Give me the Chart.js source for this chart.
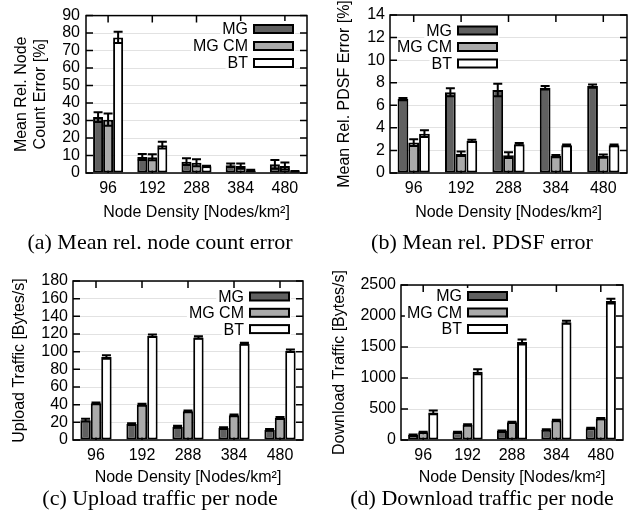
<!DOCTYPE html>
<html>
<head>
<meta charset="utf-8">
<script src="https://cdn.jsdelivr.net/npm/chart.js@4.4.0/dist/chart.umd.min.js"></script>
<style>
  body { margin: 0; background: #fff; width: 641px; height: 525px; position: relative; overflow: hidden; }
  canvas { position: absolute; }
  .cap { position: absolute; width: 320px; text-align: center; font-family: "Liberation Serif", "Times New Roman", serif; font-size: 22px; color: #000; line-height: 26px; }
</style>
</head>
<body>
<canvas id="chartA" width="320" height="230" style="left:0;top:0"></canvas>
<canvas id="chartB" width="321" height="230" style="left:320px;top:0"></canvas>
<canvas id="chartC" width="320" height="245" style="left:0;top:250px"></canvas>
<canvas id="chartD" width="321" height="245" style="left:320px;top:250px"></canvas>
<div class="cap" style="left:0;top:229px">(a) Mean rel. node count error</div>
<div class="cap" style="left:322px;top:229px">(b) Mean rel. PDSF error</div>
<div class="cap" style="left:0;top:485px">(c) Upload traffic per node</div>
<div class="cap" style="left:322px;top:485px">(d) Download traffic per node</div>
<script>
// ==========================================
// DATA
// ==========================================
const densities = ['96', '192', '288', '384', '480'];
const seriesNames = ['MG', 'MG CM', 'BT'];

// (a) mean relative node count error [%]
const countMG = [32, 9.1, 6.5, 4.5, 5];
const countMGErr = [2.8, 1.7, 1.9, 1, 2.5];
const countCM = [30.5, 9, 5.8, 4, 4];
const countCMErr = [3.5, 1.7, 2, 1.5, 2];
const countBT = [77.5, 15.9, 3.8, 1.5, 1];
const countBTErr = [3.2, 1.9, 0.4, 0.3, 0.2];

// (b) mean relative PDSF error [%]
const pdsfMG = [6.55, 7.15, 7.35, 7.55, 7.7];
const pdsfMGErr = [0.1, 0.35, 0.55, 0.15, 0.15];
const pdsfCM = [2.7, 1.7, 1.58, 1.5, 1.5];
const pdsfCMErr = [0.3, 0.2, 0.25, 0.1, 0.15];
const pdsfBT = [3.48, 2.85, 2.55, 2.45, 2.45];
const pdsfBTErr = [0.3, 0.1, 0.1, 0.08, 0.08];

// (c) upload traffic per node [Bytes/s]
const upMG = [22.5, 18, 15, 13.5, 11.5];
const upMGErr = [1.5, 1, 1, 1, 1];
const upCM = [41.5, 40, 32.5, 28, 25];
const upCMErr = [1, 1, 1, 1, 1];
const upBT = [94, 118, 116, 109, 101];
const upBTErr = [2, 1.5, 1.5, 1, 1.5];

// (d) download traffic per node [Bytes/s]
const downMG = [80, 125, 145, 165, 190];
const downMGErr = [8, 8, 8, 8, 8];
const downCM = [125, 245, 285, 315, 345];
const downCMErr = [8, 10, 10, 10, 10];
const downBT = [445, 1100, 1580, 1900, 2240];
const downBTErr = [30, 40, 40, 25, 40];

// ==========================================
// STYLE
// ==========================================
const FONT = '"Liberation Sans", Arial, sans-serif';
const fills = ['#606060', '#aaaaaa', '#ffffff'];
Chart.defaults.font.family = FONT;
Chart.defaults.font.size = 16;
Chart.defaults.color = '#000';
Chart.defaults.animation = false;

// ==========================================
// PLUGINS (gnuplot look)
// ==========================================
const frameTicks = {
  id: 'frameTicks',
  beforeDatasetsDraw(chart) {
    const { ctx, chartArea: a, scales: { x, y } } = chart;
    ctx.save();
    ctx.strokeStyle = '#000';
    ctx.lineWidth = 1.5;
    ctx.strokeRect(a.left, a.top, a.right - a.left, a.bottom - a.top);
    ctx.beginPath();
    y.ticks.forEach(t => {
      const py = y.getPixelForValue(t.value);
      ctx.moveTo(a.left, py); ctx.lineTo(a.left + 7, py);
      ctx.moveTo(a.right, py); ctx.lineTo(a.right - 7, py);
    });
    x.ticks.forEach((t, i) => {
      const px = x.getPixelForValue(i);
      ctx.moveTo(px, a.top); ctx.lineTo(px, a.top + 7);
      ctx.moveTo(px, a.bottom); ctx.lineTo(px, a.bottom - 7);
    });
    ctx.stroke();
    ctx.restore();
  }
};

const errorBars = {
  id: 'errorBars',
  afterDatasetsDraw(chart) {
    const { ctx } = chart;
    const y = chart.scales.y;
    ctx.save();
    ctx.strokeStyle = '#000';
    ctx.lineWidth = 2;
    chart.data.datasets.forEach((ds, i) => {
      chart.getDatasetMeta(i).data.forEach((bar, j) => {
        const v = ds.data[j], e = ds.errors[j];
        const top = y.getPixelForValue(v + e);
        const bot = y.getPixelForValue(Math.max(v - e, 0));
        const w = 4.5;
        ctx.beginPath();
        ctx.moveTo(bar.x, top); ctx.lineTo(bar.x, bot);
        ctx.moveTo(bar.x - w, top); ctx.lineTo(bar.x + w, top);
        ctx.moveTo(bar.x - w, bot); ctx.lineTo(bar.x + w, bot);
        ctx.stroke();
      });
    });
    ctx.restore();
  }
};

const boxLegend = {
  id: 'boxLegend',
  afterDraw(chart, args, opts) {
    const { ctx } = chart;
    ctx.save();
    ctx.font = '16px ' + FONT;
    ctx.textAlign = 'right';
    ctx.textBaseline = 'middle';
    chart.data.datasets.forEach((ds, i) => {
      const cy = opts.top + i * opts.step;
      const tw = ctx.measureText(ds.label).width;
      ctx.fillStyle = '#fff';
      ctx.fillRect(opts.left - 8 - tw, cy - 8, tw + 8 + 41, 16);
      ctx.fillStyle = '#000';
      ctx.fillText(ds.label, opts.left - 6, cy + 1);
      ctx.fillStyle = ds.backgroundColor;
      ctx.fillRect(opts.left, cy - 4, 39, 8);
      ctx.lineWidth = 2;
      ctx.strokeStyle = '#000';
      ctx.strokeRect(opts.left, cy - 4, 39, 8);
    });
    ctx.restore();
  }
};

// ==========================================
// CHART FACTORY
// ==========================================
function makeChart(id, f) {
  const datasets = f.series.map((vals, i) => ({
    label: seriesNames[i],
    data: vals,
    errors: f.errors[i],
    backgroundColor: fills[i],
    borderColor: '#000',
    borderWidth: 2,
    borderSkipped: false,
    barPercentage: 1,
    categoryPercentage: 0.68
  }));

  return new Chart(document.getElementById(id), {
    type: 'bar',
    data: { labels: densities, datasets },
    plugins: [frameTicks, errorBars, boxLegend],
    options: {
      responsive: false,
      layout: { padding: { left: 0, top: f.padTop, right: f.padRight, bottom: 0 } },
      plugins: {
        legend: { display: false },
        tooltip: { enabled: false },
        boxLegend: f.legend
      },
      scales: {
        x: {
          grid: { display: false, drawTicks: false },
          border: { display: false },
          ticks: { padding: 6, color: '#000' },
          title: { display: true, text: 'Node Density [Nodes/km²]', color: '#000', padding: { top: 0, bottom: f.xTitlePad } },
          afterFit: s => { s.height = f.xHeight; }
        },
        y: {
          min: 0,
          max: f.yMax,
          grid: { color: '#e2e2e2', drawTicks: false },
          border: { display: false },
          ticks: { stepSize: f.yStep, padding: f.yTickPad, color: '#000', autoSkip: false,
                   callback: v => String(v) },
          title: { display: true, text: f.yTitle, color: '#000', font: { lineHeight: 1.15 }, padding: { top: f.yTitlePad, bottom: 0 } },
          afterFit: s => { s.width = f.yWidth; }
        }
      }
    }
  });
}

makeChart('chartA', {
  series: [countMG, countCM, countBT],
  errors: [countMGErr, countCMErr, countBTErr],
  yMax: 90, yStep: 10, yTitle: ['Mean Rel. Node', 'Count Error [%]'],
  padTop: 13, padRight: 13, yWidth: 86, xHeight: 57,
  yTickPad: 6, yTitlePad: 12.5, xTitlePad: 8,
  legend: { left: 254, top: 29, step: 17 }
});

makeChart('chartB', {
  series: [pdsfMG, pdsfCM, pdsfBT],
  errors: [pdsfMGErr, pdsfCMErr, pdsfBTErr],
  yMax: 14, yStep: 2, yTitle: 'Mean Rel. PDSF Error [%]',
  padTop: 15, padRight: 14, yWidth: 70, xHeight: 57,
  yTickPad: 5, yTitlePad: 15.5, xTitlePad: 8,
  legend: { left: 138, top: 30.5, step: 16.5 }
});

makeChart('chartC', {
  series: [upMG, upCM, upBT],
  errors: [upMGErr, upCMErr, upBTErr],
  yMax: 180, yStep: 20, yTitle: 'Upload Traffic [Bytes/s]',
  padTop: 31, padRight: 17, yWidth: 73, xHeight: 55,
  yTickPad: 5, yTitlePad: 10.5, xTitlePad: 7.5,
  legend: { left: 250, top: 46.5, step: 16.3 }
});

makeChart('chartD', {
  series: [downMG, downCM, downBT],
  errors: [downMGErr, downCMErr, downBTErr],
  yMax: 2500, yStep: 500, yTitle: 'Download Traffic [Bytes/s]',
  padTop: 35, padRight: 18, yWidth: 81, xHeight: 55,
  yTickPad: 5, yTitlePad: 10.5, xTitlePad: 7.5,
  legend: { left: 148, top: 46, step: 16.5 }
});
</script>
</body>
</html>
